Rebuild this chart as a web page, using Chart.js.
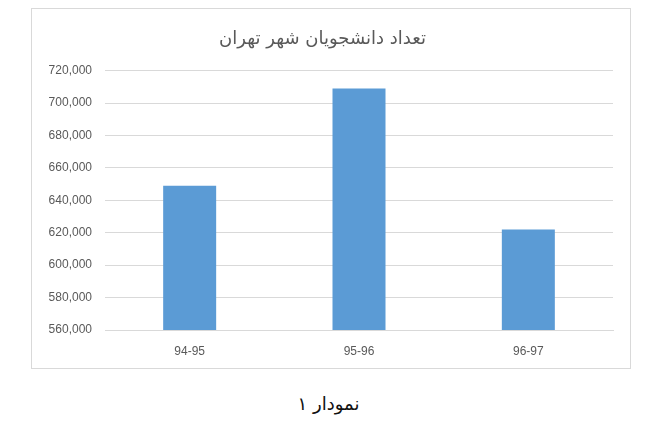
<!DOCTYPE html>
<html>
<head>
<meta charset="utf-8">
<script src="https://cdn.jsdelivr.net/npm/chart.js@4"></script>
<style>
  html, body { margin: 0; padding: 0; background: #fff; }
  #box { position: absolute; left: 31px; top: 8px; width: 600px; height: 361px; border: 1px solid #d9d9d9; box-sizing: border-box; }
  #box canvas { display: block; }
  #caption { position: absolute; left: 0; width: 657px; top: 393px; text-align: center; font-family: "DejaVu Sans", sans-serif; font-size: 18px; color: #111; direction: rtl; }
</style>
</head>
<body>
<div id="box"><canvas id="c" width="598" height="359"></canvas></div>
<div id="caption">نمودار ۱</div>
<script>
const categories = ["94-95", "95-96", "96-97"];
const students = [649000, 709000, 622000];
const yTicks = [560000, 580000, 600000, 620000, 640000, 660000, 680000, 700000, 720000];
const chartTitle = "تعداد دانشجویان شهر تهران";

new Chart(document.getElementById("c"), {
  type: "bar",
  data: {
    labels: categories,
    datasets: [{ data: students, backgroundColor: "#5b9bd5", borderWidth: 0, categoryPercentage: 1, barPercentage: 0.313 }]
  },
  options: {
    responsive: false,
    animation: false,
    devicePixelRatio: 1,
    layout: { padding: { left: 0, right: 17, top: 0, bottom: 8 } },
    plugins: {
      legend: { display: false },
      tooltip: { enabled: false },
      title: {
        display: true, text: chartTitle, color: "#595959",
        font: { family: "DejaVu Sans, Arial, sans-serif", size: 18, weight: "normal" },
        padding: { top: 20, bottom: 20 }
      }
    },
    scales: {
      y: {
        min: yTicks[0], max: yTicks[yTicks.length - 1],
        afterFit: s => { s.width = 73; },
        afterBuildTicks: s => { s.ticks = yTicks.map(v => ({ value: v })); },
        ticks: {
          padding: 13, color: "#595959",
          font: { family: "Liberation Sans, Arial, sans-serif", size: 12 },
          callback: v => v.toLocaleString("en-US")
        },
        grid: { color: "#d9d9d9", drawTicks: false },
        border: { display: false }
      },
      x: {
        afterFit: s => { s.height = 30; },
        ticks: { padding: 14, color: "#595959", font: { family: "Liberation Sans, Arial, sans-serif", size: 12 } },
        grid: { display: false, drawTicks: false },
        border: { color: "#d9d9d9" }
      }
    }
  }
});
</script>
</body>
</html>
